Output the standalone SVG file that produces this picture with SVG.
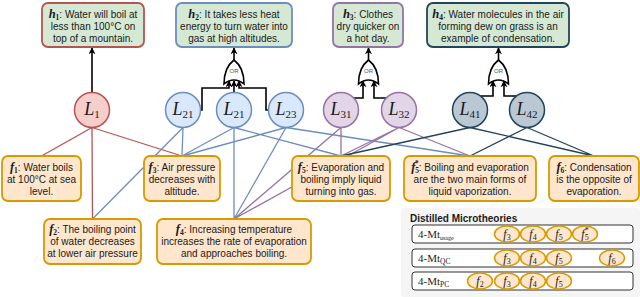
<svg xmlns="http://www.w3.org/2000/svg" width="640" height="297" viewBox="0 0 640 297">
<defs>
<style>
.t{font-family:"Liberation Sans",Arial,sans-serif;font-size:10px;fill:#1a1a1a;text-anchor:middle}
.m{font-family:"Liberation Serif","Times New Roman",serif;font-style:italic;font-weight:bold;font-size:12.5px}
.ms{font-family:"Liberation Serif","Times New Roman",serif;font-weight:bold;font-size:7.5px}
.hyp{fill:#d5e8d4;stroke-width:1.8}
.fact{fill:#ffe6cc;stroke:#d79b00;stroke-width:1.8}
.circ{stroke-width:1.5}
.L{font-family:"Liberation Serif","Times New Roman",serif;font-size:18px;fill:#1a1a1a;text-anchor:middle}
.Li{font-style:italic}
.Ls{font-size:11px}
.red{stroke:#b85450;stroke-width:1.3;fill:none}
.blue{stroke:#6c8ebf;stroke-width:1.3;fill:none}
.pur{stroke:#9673a6;stroke-width:1.3;fill:none}
.dark{stroke:#23445d;stroke-width:1.3;fill:none}
.blk{stroke:#000;stroke-width:1.6;fill:none}
.gate{fill:#fff;stroke:#000;stroke-width:1.6}
.or{font-family:"Liberation Sans",Arial,sans-serif;font-size:6px;fill:#555;text-anchor:middle}
.row{fill:#fff;stroke:#333;stroke-width:1}
.ell{fill:#ffe6cc;stroke:#d79b00;stroke-width:1.5}
.el{font-family:"Liberation Serif","Times New Roman",serif;font-size:12px;font-style:italic;fill:#1a1a1a;text-anchor:middle}
.els{font-size:8px;font-style:normal}
.rl{font-family:"Liberation Serif","Times New Roman",serif;font-size:11px;fill:#1a1a1a}
</style>
<marker id="arr" viewBox="0 0 10 10" refX="9" refY="5" markerWidth="7" markerHeight="7" orient="auto" markerUnits="userSpaceOnUse">
<path d="M0,0 L10,5 L0,10 L3,5 Z" fill="#000"/>
</marker>
</defs>

<g id="connectors">
<path class="red" d="M92,127.5 L41.5,156 M92,127.5 L92.5,219 M92,127.5 L182,156"/>
<path class="blue" d="M183,127.5 L182,156 M183,127.5 L92.5,219 M234,127.5 L182,156 M234,127.5 L234,219 M234,127.5 L341,156 M286,127.5 L182,156 M286,127.5 L234,219 M286,127.5 L470,156"/>
<path class="pur" d="M341,127.5 L234,219 M341,127.5 L341,156 M399,127.5 L234,219 M399,127.5 L341,156 M399,127.5 L470,156"/>
<path class="dark" d="M470,127.5 L341,156 M470,127.5 L594,156 M527,127.5 L470,156 M527,127.5 L594,156"/>
<path class="blk" d="M92,92.5 V48" marker-end="url(#arr)"/>
<path class="blk" d="M183,110 H202 V88 H229 V81" marker-end="url(#arr)"/>
<path class="blk" d="M234,92.5 V81" marker-end="url(#arr)"/>
<path class="blk" d="M286,110 H266 V88 H239 V81" marker-end="url(#arr)"/>
<path class="blk" d="M341,98 H363 V81" marker-end="url(#arr)"/>
<path class="blk" d="M399,98 H374 V81" marker-end="url(#arr)"/>
<path class="blk" d="M470,96 H493 V81" marker-end="url(#arr)"/>
<path class="blk" d="M527,96 H504 V81" marker-end="url(#arr)"/>
<path class="blk" d="M234,60 V48" marker-end="url(#arr)"/>
<path class="blk" d="M368.5,60 V48" marker-end="url(#arr)"/>
<path class="blk" d="M498.5,60 V48" marker-end="url(#arr)"/>
</g>

<g id="gate-h2">
<path class="gate" d="M234,60 C238,63 244,69 244,84 Q234,76 224,84 C224,69 230,63 234,60 Z"/>
<text class="or" x="234" y="73">OR</text>
</g>
<g id="gate-h3">
<path class="gate" d="M368.5,60 C372.5,63 378.5,69 378.5,84 Q368.5,76 358.5,84 C358.5,69 364.5,63 368.5,60 Z"/>
<text class="or" x="368.5" y="73">OR</text>
</g>
<g id="gate-h4">
<path class="gate" d="M498.5,60 C502.5,63 508.5,69 508.5,84 Q498.5,76 488.5,84 C488.5,69 494.5,63 498.5,60 Z"/>
<text class="or" x="498.5" y="73">OR</text>
</g>

<g id="h1">
<rect class="hyp" x="42" y="3" width="102" height="44" rx="6" stroke="#b85450"/>
<text class="t" x="93" y="17.5"><tspan class="m">h</tspan><tspan class="ms" dy="2">1</tspan><tspan dy="-2">: Water will boil at</tspan></text>
<text class="t" x="93" y="29.5">less than 100°C on</text>
<text class="t" x="93" y="41.5">top of a mountain.</text>
</g>
<g id="h2">
<rect class="hyp" x="176" y="3" width="116" height="44" rx="6" stroke="#6c8ebf"/>
<text class="t" x="234" y="17.5"><tspan class="m">h</tspan><tspan class="ms" dy="2">2</tspan><tspan dy="-2">: It takes less heat</tspan></text>
<text class="t" x="234" y="29.5">energy to turn water into</text>
<text class="t" x="234" y="41.5">gas at high altitudes.</text>
</g>
<g id="h3">
<rect class="hyp" x="333" y="3" width="70" height="44" rx="6" stroke="#9673a6"/>
<text class="t" x="368" y="17.5"><tspan class="m">h</tspan><tspan class="ms" dy="2">3</tspan><tspan dy="-2">: Clothes</tspan></text>
<text class="t" x="368" y="29.5">dry quicker on</text>
<text class="t" x="368" y="41.5">a hot day.</text>
</g>
<g id="h4">
<rect class="hyp" x="427" y="3" width="142" height="44" rx="6" stroke="#23445d"/>
<text class="t" x="498" y="17.5"><tspan class="m">h</tspan><tspan class="ms" dy="2">4</tspan><tspan dy="-2">: Water molecules in the air</tspan></text>
<text class="t" x="498" y="29.5">forming dew on grass is an</text>
<text class="t" x="498" y="41.5">example of condensation.</text>
</g>

<g id="L1">
<circle class="circ" cx="92" cy="110" r="17.5" fill="#f8cecc" stroke="#b85450"/>
<text class="L" x="92" y="115"><tspan class="Li">L</tspan><tspan class="Ls" dy="3">1</tspan></text>
</g>
<g id="L21a">
<circle class="circ" cx="183" cy="110" r="17.5" fill="#dae8fc" stroke="#6c8ebf"/>
<text class="L" x="183" y="115"><tspan class="Li">L</tspan><tspan class="Ls" dy="3">21</tspan></text>
</g>
<g id="L21b">
<circle class="circ" cx="234" cy="110" r="17.5" fill="#dae8fc" stroke="#6c8ebf"/>
<text class="L" x="234" y="115"><tspan class="Li">L</tspan><tspan class="Ls" dy="3">21</tspan></text>
</g>
<g id="L23">
<circle class="circ" cx="286" cy="110" r="17.5" fill="#dae8fc" stroke="#6c8ebf"/>
<text class="L" x="286" y="115"><tspan class="Li">L</tspan><tspan class="Ls" dy="3">23</tspan></text>
</g>
<g id="L31">
<circle class="circ" cx="341" cy="110" r="17.5" fill="#e1d5e7" stroke="#9673a6"/>
<text class="L" x="341" y="115"><tspan class="Li">L</tspan><tspan class="Ls" dy="3">31</tspan></text>
</g>
<g id="L32">
<circle class="circ" cx="399" cy="110" r="17.5" fill="#e1d5e7" stroke="#9673a6"/>
<text class="L" x="399" y="115"><tspan class="Li">L</tspan><tspan class="Ls" dy="3">32</tspan></text>
</g>
<g id="L41">
<circle class="circ" cx="470" cy="110" r="17.5" fill="#bac8d3" stroke="#23445d"/>
<text class="L" x="470" y="115"><tspan class="Li">L</tspan><tspan class="Ls" dy="3">41</tspan></text>
</g>
<g id="L42">
<circle class="circ" cx="527" cy="110" r="17.5" fill="#bac8d3" stroke="#23445d"/>
<text class="L" x="527" y="115"><tspan class="Li">L</tspan><tspan class="Ls" dy="3">42</tspan></text>
</g>

<g id="f1">
<rect class="fact" x="2" y="156" width="79" height="45" rx="6"/>
<text class="t" x="41.5" y="170.5"><tspan class="m">f</tspan><tspan class="ms" dy="2">1</tspan><tspan dy="-2">:  Water boils</tspan></text>
<text class="t" x="41.5" y="182.5">at 100°C at sea</text>
<text class="t" x="41.5" y="194.5">level.</text>
</g>
<g id="f3">
<rect class="fact" x="144" y="156" width="76" height="45" rx="6"/>
<text class="t" x="182" y="170.5"><tspan class="m">f</tspan><tspan class="ms" dy="2">3</tspan><tspan dy="-2">: Air pressure</tspan></text>
<text class="t" x="182" y="182.5">decreases with</text>
<text class="t" x="182" y="194.5">altitude.</text>
</g>
<g id="f2">
<rect class="fact" x="44" y="219" width="97" height="45" rx="6"/>
<text class="t" x="92.5" y="233"><tspan class="m">f</tspan><tspan class="ms" dy="2">2</tspan><tspan dy="-2">: The boiling point</tspan></text>
<text class="t" x="92.5" y="245">of water decreases</text>
<text class="t" x="92.5" y="257">at lower air pressure</text>
</g>
<g id="f4">
<rect class="fact" x="157" y="219" width="154" height="45" rx="6"/>
<text class="t" x="234" y="233"><tspan class="m">f</tspan><tspan class="ms" dy="2">4</tspan><tspan dy="-2">: Increasing temperature</tspan></text>
<text class="t" x="234" y="245">increases the rate of evaporation</text>
<text class="t" x="234" y="257">and approaches boiling.</text>
</g>
<g id="f5">
<rect class="fact" x="292" y="156" width="98" height="45" rx="6"/>
<text class="t" x="341" y="170.5"><tspan class="m">f</tspan><tspan class="ms" dy="2">5</tspan><tspan dy="-2">: Evaporation and</tspan></text>
<text class="t" x="341" y="182.5">boiling imply liquid</text>
<text class="t" x="341" y="194.5">turning into gas.</text>
</g>
<g id="f5star">
<rect class="fact" x="404" y="156" width="132" height="45" rx="6"/>
<text class="t" x="470" y="170.5"><tspan class="m">f</tspan><tspan class="ms" dy="2">5</tspan><tspan class="ms" dx="-4" dy="-6.5">*</tspan><tspan dy="4.5">: Boiling and evaporation</tspan></text>
<text class="t" x="470" y="182.5">are the two main forms of</text>
<text class="t" x="470" y="194.5">liquid vaporization.</text>
</g>
<g id="f6">
<rect class="fact" x="549" y="156" width="90" height="45" rx="6"/>
<text class="t" x="594" y="170.5"><tspan class="m">f</tspan><tspan class="ms" dy="2">6</tspan><tspan dy="-2">: Condensation</tspan></text>
<text class="t" x="594" y="182.5">is the opposite of</text>
<text class="t" x="594" y="194.5">evaporation.</text>
</g>

<g id="microtheories">
<rect x="401" y="208" width="239" height="89" rx="3" fill="#f5f5f5"/>
<text x="410" y="222" font-family="'Liberation Sans',Arial,sans-serif" font-size="10" font-weight="bold" fill="#1a1a1a">Distilled Microtheories</text>
<rect class="row" x="412" y="225" width="221" height="18" rx="3"/>
<rect class="row" x="412" y="249" width="221" height="18" rx="3"/>
<rect class="row" x="412" y="272" width="221" height="18" rx="3"/>
<text class="rl" x="418" y="238">4-Mt<tspan font-size="6" dy="2">usage</tspan></text>
<text class="rl" x="418" y="262">4-Mt<tspan font-size="7.5" dy="2">QC</tspan></text>
<text class="rl" x="418" y="285">4-Mt<tspan font-size="7.5" dy="2">PC</tspan></text>

<ellipse class="ell" cx="507" cy="234" rx="12.5" ry="8"/>
<text class="el" x="507" y="238">f<tspan class="els" dy="2">3</tspan></text>
<ellipse class="ell" cx="533" cy="234" rx="12.5" ry="8"/>
<text class="el" x="533" y="238">f<tspan class="els" dy="2">4</tspan></text>
<ellipse class="ell" cx="559" cy="234" rx="12.5" ry="8"/>
<text class="el" x="559" y="238">f<tspan class="els" dy="2">5</tspan></text>
<ellipse class="ell" cx="585" cy="234" rx="12.5" ry="8"/>
<text class="el" x="585" y="238">f<tspan class="els" dy="2">5</tspan><tspan class="els" dx="-4" dy="-7">*</tspan></text>

<ellipse class="ell" cx="507" cy="258" rx="12.5" ry="8"/>
<text class="el" x="507" y="262">f<tspan class="els" dy="2">3</tspan></text>
<ellipse class="ell" cx="533" cy="258" rx="12.5" ry="8"/>
<text class="el" x="533" y="262">f<tspan class="els" dy="2">4</tspan></text>
<ellipse class="ell" cx="559" cy="258" rx="12.5" ry="8"/>
<text class="el" x="559" y="262">f<tspan class="els" dy="2">5</tspan></text>
<ellipse class="ell" cx="612" cy="258" rx="12.5" ry="8"/>
<text class="el" x="612" y="262">f<tspan class="els" dy="2">6</tspan></text>

<ellipse class="ell" cx="480" cy="281" rx="12.5" ry="8"/>
<text class="el" x="480" y="285">f<tspan class="els" dy="2">2</tspan></text>
<ellipse class="ell" cx="507" cy="281" rx="12.5" ry="8"/>
<text class="el" x="507" y="285">f<tspan class="els" dy="2">3</tspan></text>
<ellipse class="ell" cx="533" cy="281" rx="12.5" ry="8"/>
<text class="el" x="533" y="285">f<tspan class="els" dy="2">4</tspan></text>
<ellipse class="ell" cx="559" cy="281" rx="12.5" ry="8"/>
<text class="el" x="559" y="285">f<tspan class="els" dy="2">5</tspan></text>
</g>
</svg>
